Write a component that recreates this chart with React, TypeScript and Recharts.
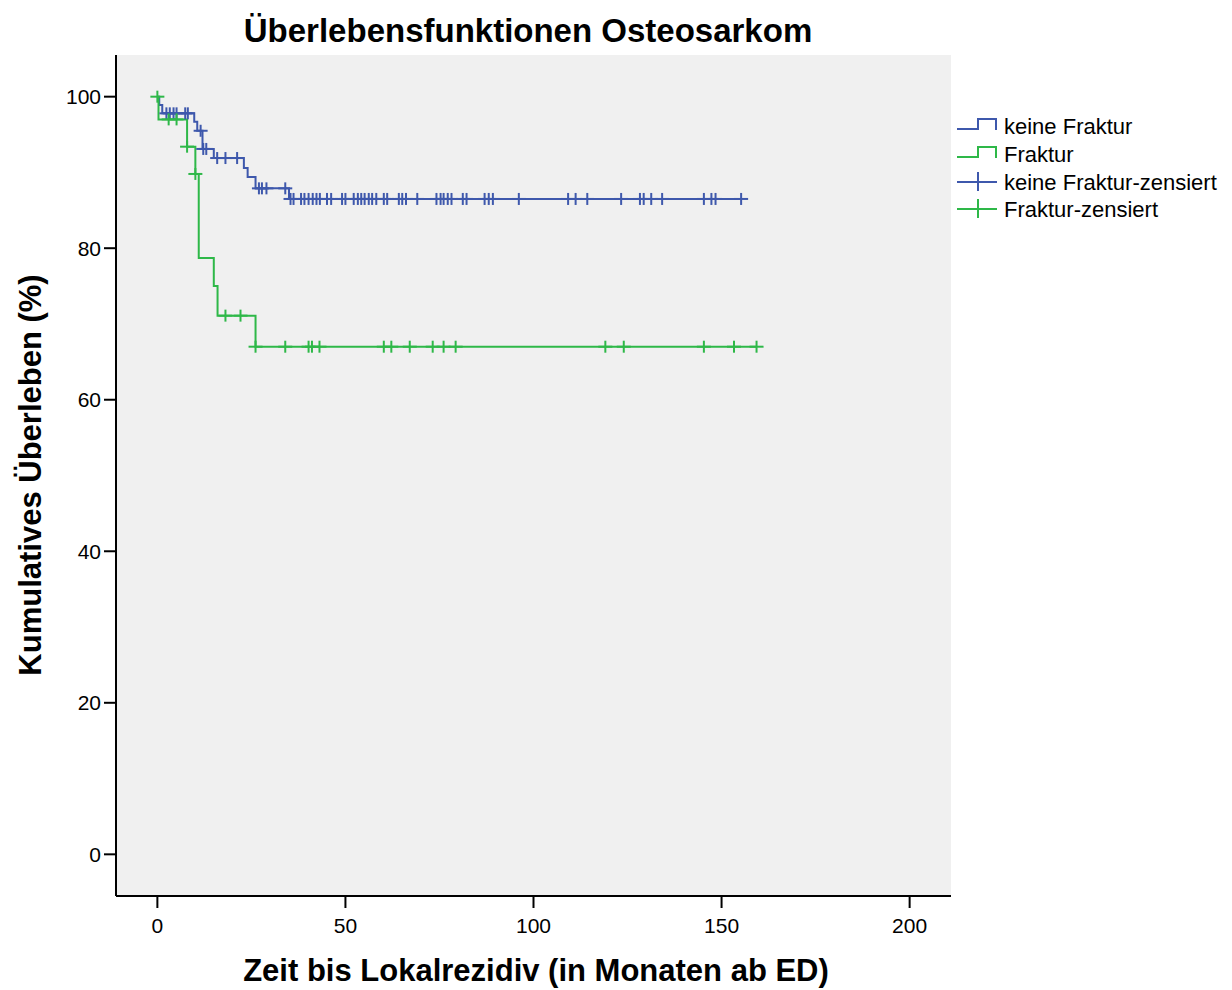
import React from 'react';
import {
  ComposedChart,
  Line,
  Scatter,
  XAxis,
  YAxis,
  CartesianGrid,
} from 'recharts';

// Kaplan-Meier step curves (time in months, cumulative survival in %)
const keineFrakturTimes = [0, 0.5, 1.3, 9.8, 10.6, 12.0, 15, 23, 24, 26.1, 35, 155.2];
const keineFrakturLevels = [100, 98.9, 97.8, 96.7, 95.5, 93.1, 91.9, 90.6, 89.4, 87.9, 86.5, 86.5];

const frakturTimes = [0, 0.3, 7.9, 10.1, 11, 15, 16, 26.1, 159.3];
const frakturLevels = [100, 97.0, 93.4, 89.8, 78.7, 75.0, 71.1, 67.0, 67.0];

const keineFrakturCensored = [
  2.4, 3.3, 4.3, 5.1, 7.4, 8.1, 11.5, 12.2, 13.0, 15.9, 18.1, 21.2, 27, 27.8, 29, 34,
  35.4, 36.2, 38.2, 39.1, 40.2, 41.3, 42.3, 43.2, 45.1, 46.2, 49.1, 50.0, 52.2, 53.3,
  54.2, 55.1, 56.2, 57.1, 58.2, 60.2, 61.1, 64.2, 65.1, 66.1, 69.1, 74.2, 75.3, 76.1,
  77.2, 78.2, 81.2, 82.2, 87.0, 88.1, 89.2, 96.1, 109.2, 111.2, 114.3, 123.3, 128.3,
  129.3, 131.3, 134.2, 145.3, 147.3, 148.4, 155.2,
];
const frakturCensored = [
  0, 3.0, 5.1, 7.9, 10.1, 18.1, 22.1, 26.1, 34.0, 40.2, 41.1, 43.1, 60.2, 62.2, 67.1,
  73.2, 76.1, 79.3, 119.1, 124.0, 145.3, 153.3, 159.3,
];

const xTicks = [0, 50, 100, 150, 200];
const yTicks = [0, 20, 40, 60, 80, 100];
const legendLabels = ['keine Fraktur', 'Fraktur', 'keine Fraktur-zensiert', 'Fraktur-zensiert'];

const BLUE = '#3e58ac';
const GREEN = '#2eb848';
const FONT = 'Arial, "Liberation Sans", sans-serif';

const toSteps = (times: number[], levels: number[]) =>
  times.map((t, i) => ({ t, s: levels[i] }));

const levelAt = (times: number[], levels: number[], t: number) => {
  let lvl = levels[0];
  times.forEach((ti, i) => {
    if (t >= ti) lvl = levels[i];
  });
  return lvl;
};

const toCensor = (cens: number[], times: number[], levels: number[]) =>
  cens.map((t) => ({ t, s: levelAt(times, levels, t) }));

const blueSteps = toSteps(keineFrakturTimes, keineFrakturLevels);
const greenSteps = toSteps(frakturTimes, frakturLevels);
const blueCens = toCensor(keineFrakturCensored, keineFrakturTimes, keineFrakturLevels);
const greenCens = toCensor(frakturCensored, frakturTimes, frakturLevels);

const crossShape = (color: string) => (props: any) => {
  const { cx, cy } = props;
  return (
    <g>
      <line x1={cx - 7} x2={cx + 7} y1={cy} y2={cy} stroke={color} strokeWidth={2} />
      <line x1={cx} x2={cx} y1={cy - 6} y2={cy + 6} stroke={color} strokeWidth={2} />
    </g>
  );
};

const tickStyle = { fill: '#000', fontSize: 21, fontFamily: FONT };

export default function App() {
  const legendBase = [134, 162, 190, 217];
  const legendColors = [BLUE, GREEN, BLUE, GREEN];

  return (
    <div style={{ position: 'absolute', left: 0, top: 0, width: 1232, height: 990, background: '#fff' }}>
      <ComposedChart
        width={1232}
        height={990}
        margin={{ top: 55, right: 281, bottom: 34, left: 16 }}
      >
        <CartesianGrid fill="#f0f0f0" stroke="none" />
        <XAxis
          xAxisId="bottom"
          dataKey="t"
          type="number"
          domain={[-11, 211]}
          ticks={xTicks}
          height={60}
          tickSize={12}
          tickMargin={10}
          tick={tickStyle}
          axisLine={{ stroke: '#000', strokeWidth: 2 }}
          tickLine={{ stroke: '#000', strokeWidth: 2 }}
          allowDataOverflow
        />
        <XAxis
          xAxisId="top"
          orientation="top"
          type="number"
          domain={[-11, 211]}
          height={0}
          tick={false}
          tickLine={false}
          axisLine={{ stroke: '#000', strokeWidth: 2 }}
        />
        <YAxis
          yAxisId="left"
          type="number"
          domain={[-5.5, 105.5]}
          ticks={yTicks}
          width={100}
          tickSize={12}
          tickMargin={3}
          tick={tickStyle}
          axisLine={{ stroke: '#000', strokeWidth: 2 }}
          tickLine={{ stroke: '#000', strokeWidth: 2 }}
          allowDataOverflow
        />
        <YAxis
          yAxisId="right"
          orientation="right"
          type="number"
          domain={[-5.5, 105.5]}
          width={0}
          tick={false}
          tickLine={false}
          axisLine={{ stroke: '#000', strokeWidth: 2 }}
        />
        <Line
          xAxisId="bottom"
          yAxisId="left"
          data={blueSteps}
          dataKey="s"
          type="stepAfter"
          stroke={BLUE}
          strokeWidth={2}
          dot={false}
          activeDot={false}
          isAnimationActive={false}
        />
        <Line
          xAxisId="bottom"
          yAxisId="left"
          data={greenSteps}
          dataKey="s"
          type="stepAfter"
          stroke={GREEN}
          strokeWidth={2}
          dot={false}
          activeDot={false}
          isAnimationActive={false}
        />
        <Scatter
          xAxisId="bottom"
          yAxisId="left"
          data={blueCens}
          dataKey="s"
          shape={crossShape(BLUE)}
          isAnimationActive={false}
        />
        <Scatter
          xAxisId="bottom"
          yAxisId="left"
          data={greenCens}
          dataKey="s"
          shape={crossShape(GREEN)}
          isAnimationActive={false}
        />
      </ComposedChart>

      <svg
        width={1232}
        height={990}
        style={{ position: 'absolute', left: 0, top: 0, pointerEvents: 'none' }}
        fontFamily={FONT}
      >
        <text x={528} y={42} textAnchor="middle" fontSize={33} fontWeight="bold" fill="#000">
          Überlebensfunktionen Osteosarkom
        </text>
        <text x={536} y={981} textAnchor="middle" fontSize={31} fontWeight="bold" fill="#000">
          Zeit bis Lokalrezidiv (in Monaten ab ED)
        </text>
        <text
          transform="translate(41,475) rotate(-90)"
          textAnchor="middle"
          fontSize={31}
          fontWeight="bold"
          fill="#000"
        >
          Kumulatives Überleben (%)
        </text>
        {legendLabels.map((label, i) => {
          const b = legendBase[i];
          const c = legendColors[i];
          return (
            <g key={label}>
              {i < 2 ? (
                <path
                  d={`M957,${b - 5} H978 V${b - 15} H996 V${b - 4}`}
                  fill="none"
                  stroke={c}
                  strokeWidth={2}
                />
              ) : (
                <g>
                  <line x1={957} x2={997} y1={b - 8} y2={b - 8} stroke={c} strokeWidth={2} />
                  <line x1={978} x2={978} y1={b - 18} y2={b + 1} stroke={c} strokeWidth={2} />
                </g>
              )}
              <text x={1004} y={b} fontSize={22} fill="#000">
                {label}
              </text>
            </g>
          );
        })}
      </svg>
    </div>
  );
}
